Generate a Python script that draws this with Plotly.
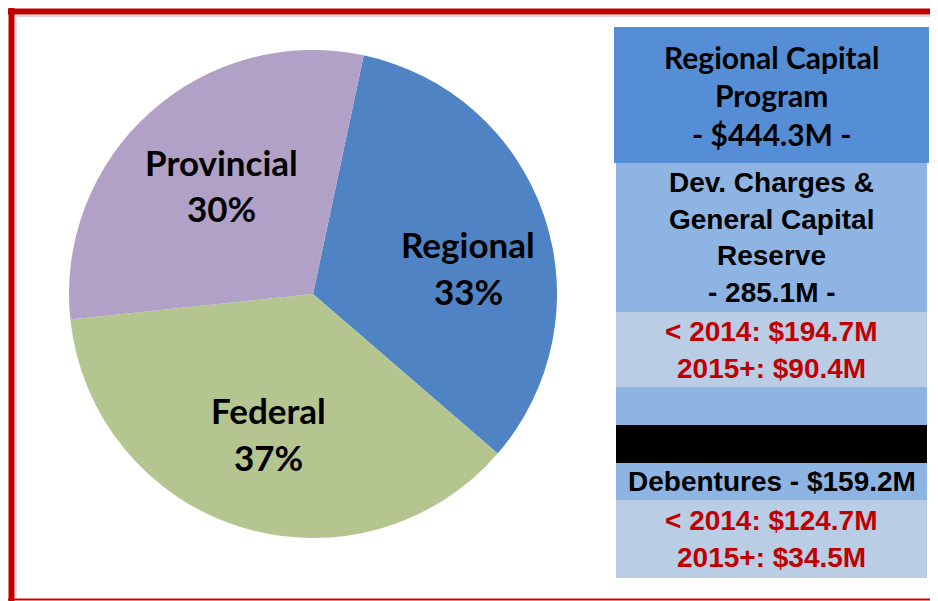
#Description: Regional capital program funding split (pie + funding panel).

import plotly.graph_objects as go

W, H = 938, 601
OFF = 8  # page body margin, shifts the figure on screen

# pie data
sources = ["Regional", "Federal", "Provincial"]
shares = [33, 37, 30]
slice_colors = ["#5083C4", "#B5C58F", "#B2A1C7"]

# funding panel data
panel_lines = [
    ["Regional Capital", "Program", "- $444.3M -"],
    ["Dev. Charges &", "General Capital", "Reserve", "- 285.1M -"],
    ["< 2014: $194.7M", "2015+: $90.4M"],
    [],
    [],
    ["Debentures - $159.2M"],
    ["< 2014: $124.7M", "2015+: $34.5M"],
]
panel_fill = ["#558ED5", "#8EB4E3", "#B9CDE5", "#8EB4E3", "#000000", "#8EB4E3", "#B9CDE5"]
panel_text_color = ["#000000", "#000000", "#C00000", "#000000", "#000000", "#000000", "#C00000"]

# layout (pixels, screen coords)
row_edges = [27, 163, 312, 387, 425, 463, 500, 578]
row_x = [(614, 929), (616, 927), (616, 927), (616, 927), (616, 927), (616, 927), (616, 927)]
line_gap = [38.5, 36.5, 37, 37, 37, 37, 36.5]
pie_cx, pie_cy, pie_r = 313, 294, 244
label_pos = [(468, 267), (268, 433), (221, 185)]


def px(x):
    return (x - OFF) / W


def py(y):
    return 1 - (y - OFF) / H


fig = go.Figure()
fig.add_trace(go.Pie(
    labels=sources, values=shares, sort=False, direction="clockwise", rotation=12,
    marker=dict(colors=slice_colors, line=dict(width=0)),
    textinfo="none", hoverinfo="label+percent", showlegend=False,
    domain=dict(x=[px(pie_cx - pie_r), px(pie_cx + pie_r)], y=[py(pie_cy + pie_r), py(pie_cy - pie_r)]),
))

annotations = []
for name, share, (lx, ly) in zip(sources, shares, label_pos):
    for txt, dy in [(name, -23.5), (f"{share}%", 23.5)]:
        annotations.append(dict(x=px(lx), y=py(ly + dy), xref="paper", yref="paper", text=f"<b>{txt}</b>",
                                showarrow=False, xanchor="center", yanchor="middle",
                                font=dict(family="Lato", size=35, color="#000000")))

shapes = []
for i, lines in enumerate(panel_lines):
    x0, x1 = row_x[i]
    y0, y1 = row_edges[i], row_edges[i + 1]
    shapes.append(dict(type="rect", xref="paper", yref="paper", x0=px(x0), x1=px(x1), y0=py(y1), y1=py(y0),
                       fillcolor=panel_fill[i], line=dict(width=0), layer="below"))
    mid = (y0 + y1) / 2
    n = len(lines)
    family = "Lato" if i == 0 else "Liberation Sans, Arial"
    size = 30 if i == 0 else 28
    for k, txt in enumerate(lines):
        yy = mid + (k - (n - 1) / 2) * line_gap[i]
        annotations.append(dict(x=px((x0 + x1) / 2), y=py(yy), xref="paper", yref="paper", text=f"<b>{txt}</b>",
                                showarrow=False, xanchor="center", yanchor="middle",
                                font=dict(family=family, size=size, color=panel_text_color[i])))

# red frame with a faint shadow
shapes += [
    dict(type="line", xref="paper", yref="paper", x0=px(14), x1=px(940), y0=py(16), y1=py(16), line=dict(color="#d9d9d9", width=2)),
    dict(type="line", xref="paper", yref="paper", x0=px(16), x1=px(16), y0=py(14), y1=py(597), line=dict(color="#e3e3e3", width=2)),
    dict(type="line", xref="paper", yref="paper", x0=px(8), x1=px(940), y0=py(11.5), y1=py(11.5), line=dict(color="#C00000", width=6)),
    dict(type="line", xref="paper", yref="paper", x0=px(11.5), x1=px(11.5), y0=py(8), y1=py(602), line=dict(color="#C00000", width=6)),
    dict(type="line", xref="paper", yref="paper", x0=px(8), x1=px(940), y0=py(599.5), y1=py(599.5), line=dict(color="#D00000", width=2)),
]

fig.update_layout(
    width=W, height=H, margin=dict(l=0, r=0, t=0, b=0),
    paper_bgcolor="white", plot_bgcolor="white",
    shapes=shapes, annotations=annotations,
)
fig.write_html("out.html")
